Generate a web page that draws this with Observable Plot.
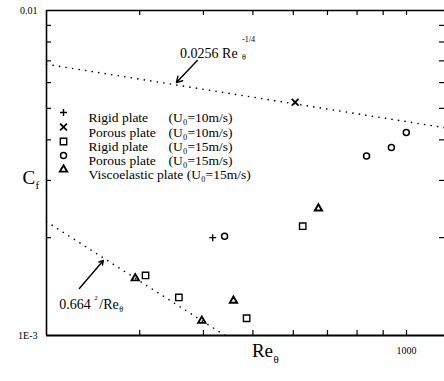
<!DOCTYPE html>
<html><head><meta charset="utf-8">
<script src="https://cdn.jsdelivr.net/npm/d3@7"></script>
<script src="https://cdn.jsdelivr.net/npm/@observablehq/plot@0.6"></script>
<style>body{margin:0;background:#fff}</style>
</head><body><div id="chart"></div>
<script>
// axes
const xDomain = [197, 1187];
const yDomain = [0.001, 0.01];
const xTicks = [300, 400, 500, 600, 700, 800, 900, 1000];
const yTicks = [0.002, 0.003, 0.004, 0.005, 0.006, 0.007, 0.008, 0.009];
const yTickLabels = [{v: 0.01, t: "0.01"}, {v: 0.001, t: "1E-3"}];
const xTickLabels = [{v: 1000, t: "1000"}];

// measured series
const rigid10Re = [417], rigid10Cf = [0.00200];
const porous10Re = [605], porous10Cf = [0.00522];
const rigid15Re = [308, 358, 486, 626], rigid15Cf = [0.00153, 0.00131, 0.00113, 0.00217];
const porous15Re = [440, 835, 934, 999], porous15Cf = [0.00202, 0.00357, 0.00379, 0.00421];
const visco15Re = [294, 397, 458, 672], visco15Cf = [0.00150, 0.00111, 0.00128, 0.00246];

// reference lines
const turbRe = [197, 1187], turbCf = [0.00683, 0.00436];
const lamRe = [197, 441], lamCf = [0.00224, 0.00100];

// legend
const legendLabels = ["Rigid plate", "Porous plate", "Rigid plate", "Porous plate", "Viscoelastic plate (U\u2080=15m/s)"];
const legendUnits = ["(U\u2080=10m/s)", "(U\u2080=10m/s)", "(U\u2080=15m/s)", "(U\u2080=15m/s)", ""];

const zip = (a, b) => a.map((v, i) => ({re: v, cf: b[i]}));
const series = [
  {data: zip(rigid10Re, rigid10Cf), symbol: "plus", r: 2.4, sw: 1.4},
  {data: zip(porous10Re, porous10Cf), symbol: "times", r: 3.2, sw: 1.8},
  {data: zip(rigid15Re, rigid15Cf), symbol: "square", r: 3.6, sw: 1.4},
  {data: zip(porous15Re, porous15Cf), symbol: "circle", r: 3.0, sw: 1.5},
  {data: zip(visco15Re, visco15Cf), symbol: "triangle", r: 2.7, sw: 1.9}
];
const rowY = [112, 126.5, 141, 155, 169];

const dotted = {stroke: "black", strokeWidth: 1.6, strokeDasharray: "0.1,6.5", strokeLinecap: "round"};

const legendMarks = [];
series.forEach((s, i) => {
  legendMarks.push(Plot.dot([0], {frameAnchor: "top-left", dx: 17, dy: rowY[i] - 10, symbol: s.symbol, r: s.r, fill: "none", stroke: "black", strokeWidth: s.sw}));
  legendMarks.push(Plot.text([legendLabels[i]], {frameAnchor: "top-left", dx: 42, dy: rowY[i] - 10, text: d => d, textAnchor: "start", fontSize: 13.5}));
  if (legendUnits[i]) legendMarks.push(Plot.text([legendUnits[i]], {frameAnchor: "top-left", dx: 122, dy: rowY[i] - 10, text: d => d, textAnchor: "start", fontSize: 13.5}));
});

const chart = Plot.plot({
  width: 444, height: 381,
  marginLeft: 46, marginRight: 0, marginTop: 10, marginBottom: 46,
  style: {fontFamily: "'Liberation Serif', 'Times New Roman', serif", background: "white", color: "black", overflow: "visible"},
  x: {type: "log", domain: xDomain, axis: null},
  y: {type: "log", domain: yDomain, axis: null},
  marks: [
    // frame
    Plot.ruleX([xDomain[0]], {stroke: "black", strokeWidth: 1.6}),
    Plot.ruleY([yDomain[0]], {stroke: "black", strokeWidth: 1.8}),
    Plot.ruleY([yDomain[1]], {stroke: "black", strokeWidth: 1.6}),
    Plot.tickX(xTicks, {x: d => d, insetTop: 320, stroke: "black", strokeWidth: 1.2}),
    Plot.tickX(xTicks, {x: d => d, insetBottom: 320, stroke: "black", strokeWidth: 1.2}),
    Plot.tickY(yTicks, {y: d => d, insetRight: 393, stroke: "black", strokeWidth: 1.2}),
    Plot.tickY(yTicks, {y: d => d, insetLeft: 393, stroke: "black", strokeWidth: 1.2}),
    // tick labels
    Plot.text(yTickLabels, {x: xDomain[0], y: "v", text: "t", dx: -9, textAnchor: "end", fontSize: 10}),
    Plot.text(xTickLabels, {x: "v", y: yDomain[0], text: "t", dy: 15, fontSize: 10}),
    // axis titles
    Plot.text(["C"], {frameAnchor: "left", dx: -24, dy: 5, text: d => d, fontSize: 19, textAnchor: "start"}),
    Plot.text(["f"], {frameAnchor: "left", dx: -11, dy: 12, text: d => d, fontSize: 11, textAnchor: "start"}),
    Plot.text(["Re"], {x: 522, frameAnchor: "bottom", dy: 21, text: d => d, fontSize: 19}),
    Plot.text(["\u03b8"], {x: 522, frameAnchor: "bottom", dy: 27, dx: 11, text: d => d, fontSize: 11, textAnchor: "start"}),
    // reference lines
    Plot.line(zip(turbRe, turbCf), {x: "re", y: "cf", ...dotted}),
    Plot.line(zip(lamRe, lamCf), {x: "re", y: "cf", ...dotted}),
    // annotations
    Plot.arrow([{x1: 389, y1: 0.00702, x2: 354, y2: 0.00600}], {x1: "x1", y1: "y1", x2: "x2", y2: "y2", stroke: "black", strokeWidth: 1.4, headLength: 7}),
    Plot.text(["0.0256 Re"], {x: 360, y: 0.00737, text: d => d, textAnchor: "start", fontSize: 14}),
    Plot.text(["-1/4"], {x: 360, y: 0.00737, dx: 62, dy: -14, text: d => d, textAnchor: "start", fontSize: 8}),
    Plot.text(["\u03b8"], {x: 360, y: 0.00737, dx: 62, dy: 4, text: d => d, textAnchor: "start", fontSize: 8}),
    Plot.arrow([{x1: 228.5, y1: 0.001395, x2: 254.6, y2: 0.001702}], {x1: "x1", y1: "y1", x2: "x2", y2: "y2", stroke: "black", strokeWidth: 1.4, headLength: 5}),
    Plot.text(["0.664"], {x: 208.7, y: 0.001246, text: d => d, textAnchor: "start", fontSize: 14}),
    Plot.text(["2"], {x: 208.7, y: 0.001246, dx: 35, dy: -7, text: d => d, textAnchor: "start", fontSize: 7}),
    Plot.text(["/Re"], {x: 208.7, y: 0.001246, dx: 40, text: d => d, textAnchor: "start", fontSize: 14}),
    Plot.text(["\u03b8"], {x: 208.7, y: 0.001246, dx: 60, dy: 5, text: d => d, textAnchor: "start", fontSize: 8}),
    // data
    ...series.map(s => Plot.dot(s.data, {x: "re", y: "cf", symbol: s.symbol, r: s.r, fill: "none", stroke: "black", strokeWidth: s.sw})),
    ...legendMarks
  ]
});
document.getElementById("chart").append(chart);
</script>
</body></html>
